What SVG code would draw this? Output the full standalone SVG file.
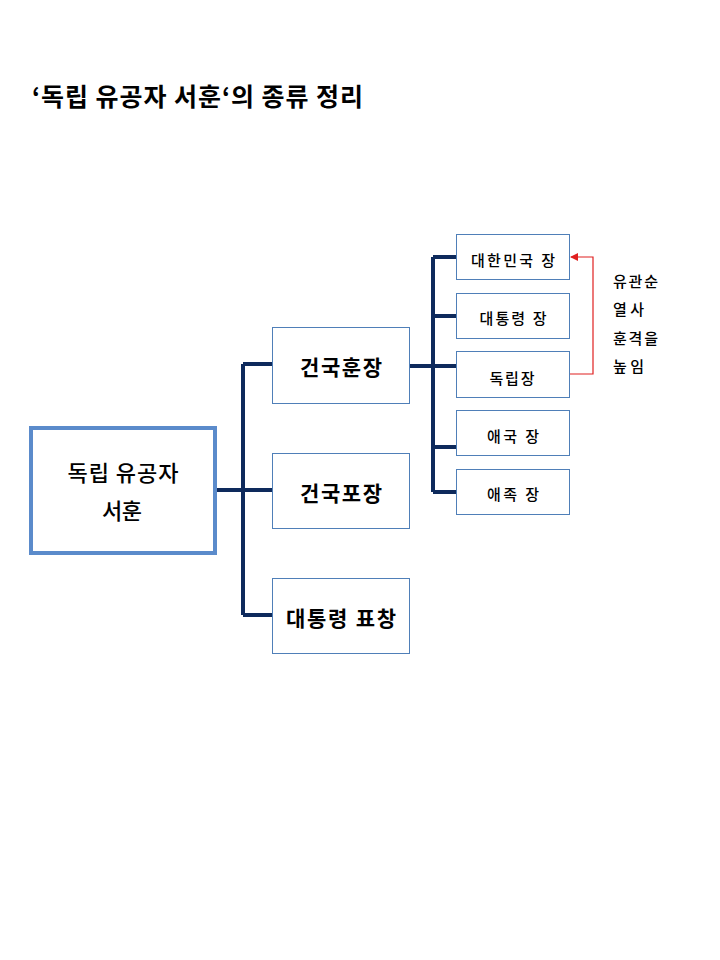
<svg xmlns="http://www.w3.org/2000/svg" width="720" height="960" viewBox="0 0 720 960">
<style>
text{font-family:"Noto Sans CJK KR","Noto Sans",sans-serif;fill:#000}
.title{font-size:25px;font-weight:bold}
.main{font-size:22px;font-weight:500;text-anchor:middle}
.l2{font-size:21px;font-weight:bold;text-anchor:middle}
.l3{font-size:15px;font-weight:500;text-anchor:middle}
.note{font-size:15px;font-weight:500}
.box{fill:#fff;stroke:#4f7fb8;stroke-width:1}
.conn{fill:none;stroke:#0e2a5c;stroke-width:4}
</style>
<defs>
<marker id="ar" markerWidth="8" markerHeight="8" refX="7" refY="4" orient="auto" markerUnits="userSpaceOnUse">
<path d="M0,0 L8,4 L0,8 Z" fill="#e02020"/>
</marker>
</defs>
<rect width="720" height="960" fill="#fff"/>
<text class="title" x="32" y="106" textLength="331" lengthAdjust="spacing">‘독립 유공자 서훈‘의 종류 정리</text>
<g id="connectors">
<path class="conn" d="M215,490 H272 M243,364 V615 M243,364 H272 M243,615 H272"/>
<path class="conn" d="M409,366 H456 M433,257 V492 M433,257 H456 M433,316 H456 M433,447 H456 M433,492 H456"/>
<path d="M569,374 H593 V257 H571" fill="none" stroke="#e02020" stroke-width="1.2" marker-end="url(#ar)"/>
</g>
<g id="n-main">
<rect x="31" y="428" width="184" height="125" fill="#fff" stroke="#5b8bcb" stroke-width="4"/>
<text class="main" x="123" y="481" textLength="111" lengthAdjust="spacing">독립 유공자</text>
<text class="main" x="122" y="519" textLength="40" lengthAdjust="spacing">서훈</text>
</g>
<g id="n-geonguk-hun">
<rect class="box" x="272.5" y="327.5" width="137" height="76"/>
<text class="l2" x="341" y="375" textLength="82" lengthAdjust="spacing">건국훈장</text>
</g>
<g id="n-geonguk-po">
<rect class="box" x="272.5" y="453.5" width="137" height="75"/>
<text class="l2" x="341" y="501" textLength="82" lengthAdjust="spacing">건국포장</text>
</g>
<g id="n-president-pyo">
<rect class="box" x="272.5" y="578.5" width="137" height="75"/>
<text class="l2" x="341" y="626" textLength="110" lengthAdjust="spacing">대통령 표창</text>
</g>
<g id="n-korea">
<rect class="box" x="456.5" y="234.5" width="113" height="45"/>
<text class="l3" x="513" y="266" textLength="84" lengthAdjust="spacing">대한민국 장</text>
</g>
<g id="n-president">
<rect class="box" x="456.5" y="293.5" width="113" height="45"/>
<text class="l3" x="513" y="324" textLength="67" lengthAdjust="spacing">대통령 장</text>
</g>
<g id="n-dongnip">
<rect class="box" x="456.5" y="351.5" width="113" height="46"/>
<text class="l3" x="512" y="384" textLength="45" lengthAdjust="spacing">독립장</text>
</g>
<g id="n-aeguk">
<rect class="box" x="456.5" y="410.5" width="113" height="45"/>
<text class="l3" x="513" y="442" textLength="52" lengthAdjust="spacing">애국 장</text>
</g>
<g id="n-aejok">
<rect class="box" x="456.5" y="469.5" width="113" height="45"/>
<text class="l3" x="513" y="500" textLength="52" lengthAdjust="spacing">애족 장</text>
</g>
<g id="note">
<text class="note" x="613" y="287" textLength="45" lengthAdjust="spacing">유관순</text>
<text class="note" x="613" y="315" textLength="31" lengthAdjust="spacing">열사</text>
<text class="note" x="613" y="344" textLength="45" lengthAdjust="spacing">훈격을</text>
<text class="note" x="613" y="372" textLength="31" lengthAdjust="spacing">높임</text>
</g>
</svg>
